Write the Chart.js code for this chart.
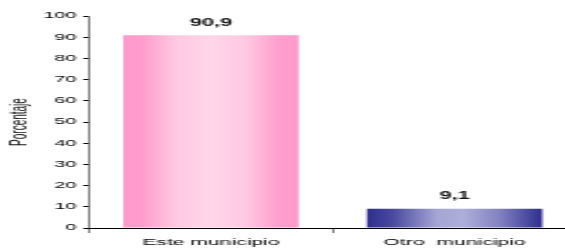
<!DOCTYPE html>
<html>
<head>
<meta charset="utf-8">
<script src="https://cdn.jsdelivr.net/npm/chart.js@4/dist/chart.umd.min.js"></script>
<style>
  html, body { margin: 0; padding: 0; background: #fff; overflow: hidden; width: 565px; height: 249px; }
  #wrap { transform: scaleX(2.2); transform-origin: 0 0; width: 263px; height: 249px; }
  canvas { display: block; }
</style>
</head>
<body>
<div id="wrap"><canvas id="c" width="263" height="249"></canvas></div>
<script>
const categories = ['Este municipio', 'Otro  municipio'];
const values = [90.9, 9.1];
const yTickValues = [0, 10, 20, 30, 40, 50, 60, 70, 80, 90, 100];
const yTitle = 'Porcentaje';

const gradStops = [
  [[0, '#ff99cc'], [0.12, '#ff9fcf'], [0.3, '#ffc9e2'], [0.5, '#ffd6ea'], [0.7, '#ffc9e2'], [0.88, '#ff9fcf'], [1, '#ff99cc']],
  [[0, '#2e2e90'], [0.15, '#4a4aa2'], [0.4, '#a6a6d6'], [0.55, '#aeaeda'], [0.75, '#8484c2'], [1, '#2e2e90']]
];
const BAR_PCT = 0.72;

const dataLabels = {
  id: 'dataLabels',
  afterDatasetsDraw(chart) {
    const ctx = chart.ctx;
    const meta = chart.getDatasetMeta(0);
    ctx.save();
    ctx.font = 'bold 10px "Liberation Sans", Arial, sans-serif';
    ctx.fillStyle = '#111';
    ctx.textAlign = 'center';
    ctx.textBaseline = 'middle';
    meta.data.forEach((el, i) => {
      const txt = values[i].toFixed(1).replace('.', ',');
      ctx.fillText(txt, el.x, el.y - 12);
    });
    ctx.restore();
  }
};

new Chart(document.getElementById('c'), {
  type: 'bar',
  data: {
    labels: categories,
    datasets: [{
      data: values,
      barPercentage: BAR_PCT,
      categoryPercentage: 1,
      borderWidth: 0,
      backgroundColor: (ctx) => {
        const chart = ctx.chart;
        const xs = chart.scales.x;
        const stops = gradStops[ctx.dataIndex];
        if (!chart.chartArea || !xs) return stops[0][1];
        const cx = xs.getPixelForValue(ctx.dataIndex);
        const half = (xs.width / categories.length) * BAR_PCT / 2;
        const g = chart.ctx.createLinearGradient(cx - half, 0, cx + half, 0);
        stops.forEach(s => g.addColorStop(s[0], s[1]));
        return g;
      }
    }]
  },
  options: {
    responsive: false,
    animation: false,
    devicePixelRatio: 1,
    layout: { padding: { top: 16, left: 0, right: 1, bottom: 0 } },
    plugins: { legend: { display: false }, tooltip: { enabled: false } },
    scales: {
      x: {
        offset: true,
        grid: { offset: true, drawOnChartArea: false, drawTicks: true, tickLength: 5, color: '#000', lineWidth: 0.5 },
        border: { display: true, color: '#000', width: 1 },
        ticks: { color: '#000', padding: 4, font: { family: '"Liberation Sans", Arial, sans-serif', size: 9.6 }, maxRotation: 0 },
        afterFit: (s) => { s.height = 21; }
      },
      y: {
        min: 0, max: 100,
        afterBuildTicks: (s) => { s.ticks = yTickValues.map(v => ({ value: v })); },
        grid: { drawOnChartArea: false, drawTicks: true, tickLength: 2.7, color: '#000', lineWidth: 1 },
        border: { display: true, color: '#000', width: 0.5 },
        ticks: { color: '#000', padding: 3, font: { family: '"Liberation Sans", Arial, sans-serif', size: 9 } },
        title: { display: true, text: yTitle, color: '#111', padding: { top: 3, bottom: 0 }, font: { family: '"Liberation Sans", Arial, sans-serif', size: 10 } },
        afterFit: (s) => { s.width = 40.5; }
      }
    }
  },
  plugins: [dataLabels]
});
</script>
</body>
</html>
